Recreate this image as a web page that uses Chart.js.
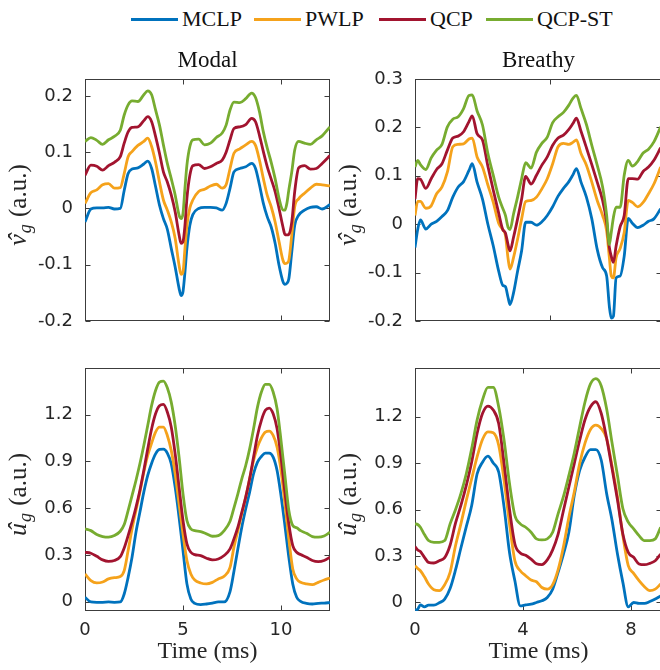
<!DOCTYPE html>
<html>
<head>
<meta charset="utf-8">
<title>Glottal flow estimates</title>
<script src="https://cdn.jsdelivr.net/npm/chart.js@4.4.1/dist/chart.umd.min.js"></script>
<style>
html, body { margin: 0; padding: 0; background: #fff; overflow: hidden; }
#fig { position: relative; width: 660px; height: 670px; overflow: hidden; }
#fig canvas { position: absolute; }
.key { position: absolute; top: 8px; font: 22px/22px "Liberation Serif", serif; color: #111; white-space: nowrap; }
.sw { position: absolute; top: 17.5px; width: 47px; height: 3px; }
</style>
</head>
<body>
<div id="fig">
  <div id="legend"></div>
  <canvas id="modalVg" width="330" height="311" style="left:0;top:40px"></canvas>
  <canvas id="breathyVg" width="332" height="311" style="left:330px;top:40px"></canvas>
  <canvas id="modalUg" width="330" height="330" style="left:0;top:340px"></canvas>
  <canvas id="breathyUg" width="332" height="330" style="left:330px;top:340px"></canvas>
</div>
<script>
var methods = ['MCLP', 'PWLP', 'QCP', 'QCP-ST'];
var lineColors = ['#0072BD', '#F5A21B', '#A2142F', '#77AC30'];

// modal vowel, flow derivative
var modalVgTime = [0, 0.3, 0.6, 0.9, 1.2, 1.5, 1.8, 2.0, 2.2, 2.4, 2.7, 3.0, 3.2, 3.4, 3.6, 3.8, 4.0, 4.2, 4.4, 4.6, 4.8, 4.9, 5.0, 5.1, 5.2, 5.35, 5.5, 5.8, 6.1, 6.4, 6.7, 7.0, 7.2, 7.4, 7.6, 7.9, 8.2, 8.5, 8.7, 8.9, 9.1, 9.3, 9.5, 9.7, 9.9, 10.1, 10.2, 10.3, 10.4, 10.55, 10.7, 10.9, 11.2, 11.5, 11.8, 12.1, 12.5];
var modalVgMCLP = [-0.024, -0.001, 0.001, 0.001, 0.002, -0.001, 0.000, 0.032, 0.062, 0.070, 0.072, 0.079, 0.084, 0.071, 0.039, 0.006, -0.018, -0.037, -0.071, -0.104, -0.142, -0.155, -0.148, -0.113, -0.071, -0.030, -0.011, 0.000, 0.002, 0.002, 0.001, -0.003, 0.009, 0.036, 0.065, 0.071, 0.074, 0.080, 0.071, 0.042, 0.009, -0.015, -0.033, -0.062, -0.101, -0.130, -0.135, -0.133, -0.125, -0.077, -0.030, -0.012, -0.003, 0.002, 0.003, -0.001, 0.007];
var modalVgPWLP = [0.009, 0.028, 0.033, 0.042, 0.044, 0.036, 0.037, 0.062, 0.092, 0.101, 0.112, 0.119, 0.125, 0.110, 0.082, 0.047, 0.015, -0.003, -0.024, -0.053, -0.101, -0.117, -0.113, -0.071, -0.030, 0.001, 0.015, 0.030, 0.034, 0.040, 0.043, 0.036, 0.042, 0.071, 0.098, 0.106, 0.113, 0.119, 0.112, 0.086, 0.053, 0.023, 0.003, -0.024, -0.059, -0.092, -0.098, -0.097, -0.092, -0.047, 0.003, 0.017, 0.027, 0.036, 0.043, 0.042, 0.040];
var modalVgQCP = [0.059, 0.077, 0.075, 0.068, 0.076, 0.082, 0.092, 0.116, 0.136, 0.144, 0.145, 0.156, 0.163, 0.154, 0.128, 0.098, 0.065, 0.047, 0.024, -0.006, -0.047, -0.062, -0.059, -0.030, 0.018, 0.059, 0.076, 0.078, 0.071, 0.074, 0.080, 0.086, 0.100, 0.122, 0.142, 0.145, 0.149, 0.160, 0.154, 0.130, 0.101, 0.074, 0.052, 0.030, 0.000, -0.033, -0.046, -0.047, -0.046, -0.024, 0.030, 0.072, 0.076, 0.070, 0.071, 0.080, 0.094];
var modalVgQCPST = [0.119, 0.126, 0.121, 0.114, 0.122, 0.128, 0.139, 0.166, 0.184, 0.191, 0.190, 0.202, 0.209, 0.202, 0.175, 0.148, 0.113, 0.080, 0.053, 0.024, -0.012, -0.018, -0.009, 0.036, 0.077, 0.110, 0.122, 0.123, 0.113, 0.116, 0.126, 0.134, 0.148, 0.175, 0.189, 0.188, 0.195, 0.205, 0.197, 0.172, 0.136, 0.107, 0.082, 0.053, 0.018, -0.003, -0.003, 0.009, 0.033, 0.065, 0.104, 0.119, 0.116, 0.114, 0.122, 0.129, 0.145];

// modal vowel, flow
var modalUgTime = [0, 0.3, 0.6, 0.9, 1.2, 1.5, 1.8, 2.0, 2.2, 2.4, 2.6, 2.8, 3.0, 3.2, 3.4, 3.6, 3.8, 4.0, 4.2, 4.4, 4.6, 4.8, 5.0, 5.2, 5.4, 5.6, 5.9, 6.2, 6.5, 6.8, 7.1, 7.4, 7.6, 7.8, 8.0, 8.2, 8.4, 8.6, 8.8, 9.0, 9.2, 9.4, 9.6, 9.8, 10.0, 10.2, 10.4, 10.6, 10.8, 11.0, 11.3, 11.6, 11.9, 12.2, 12.5];
var modalUgMCLP = [0.028, -0.002, -0.004, -0.004, -0.002, -0.004, -0.002, 0.049, 0.156, 0.285, 0.446, 0.574, 0.703, 0.810, 0.889, 0.949, 0.977, 0.979, 0.954, 0.885, 0.735, 0.542, 0.328, 0.114, 0.017, -0.011, -0.019, -0.015, -0.009, -0.002, -0.002, 0.065, 0.195, 0.339, 0.478, 0.596, 0.703, 0.821, 0.896, 0.932, 0.954, 0.954, 0.928, 0.842, 0.681, 0.489, 0.285, 0.114, 0.028, 0.002, -0.011, -0.015, -0.011, -0.009, -0.006];
var modalUgPWLP = [0.178, 0.135, 0.120, 0.126, 0.146, 0.154, 0.161, 0.199, 0.328, 0.467, 0.585, 0.703, 0.831, 0.939, 1.018, 1.089, 1.121, 1.121, 1.067, 0.971, 0.821, 0.628, 0.435, 0.264, 0.178, 0.139, 0.120, 0.114, 0.124, 0.146, 0.163, 0.220, 0.350, 0.456, 0.564, 0.671, 0.789, 0.906, 0.992, 1.052, 1.089, 1.095, 1.067, 0.992, 0.842, 0.628, 0.403, 0.210, 0.146, 0.124, 0.114, 0.109, 0.124, 0.139, 0.152];
var modalUgQCP = [0.317, 0.311, 0.291, 0.268, 0.259, 0.264, 0.289, 0.345, 0.424, 0.510, 0.606, 0.714, 0.842, 0.981, 1.110, 1.206, 1.258, 1.266, 1.217, 1.121, 0.949, 0.735, 0.521, 0.371, 0.317, 0.302, 0.296, 0.279, 0.268, 0.274, 0.296, 0.339, 0.403, 0.478, 0.574, 0.671, 0.789, 0.928, 1.067, 1.164, 1.228, 1.243, 1.206, 1.110, 0.928, 0.703, 0.499, 0.360, 0.317, 0.302, 0.285, 0.264, 0.257, 0.264, 0.285];
var modalUgQCPST = [0.467, 0.456, 0.431, 0.418, 0.414, 0.424, 0.452, 0.495, 0.585, 0.681, 0.778, 0.885, 1.003, 1.131, 1.260, 1.356, 1.410, 1.416, 1.373, 1.281, 1.131, 0.928, 0.692, 0.521, 0.467, 0.456, 0.450, 0.435, 0.420, 0.424, 0.456, 0.516, 0.602, 0.692, 0.789, 0.874, 0.981, 1.110, 1.249, 1.346, 1.395, 1.395, 1.346, 1.238, 1.035, 0.810, 0.585, 0.489, 0.474, 0.456, 0.439, 0.418, 0.414, 0.422, 0.446];

// breathy vowel, flow derivative
var breathyVgTime = [0, 0.1, 0.2, 0.4, 0.6, 0.8, 1.0, 1.2, 1.4, 1.6, 1.8, 2.0, 2.12, 2.3, 2.5, 2.7, 2.9, 3.1, 3.25, 3.35, 3.45, 3.52, 3.65, 3.8, 3.95, 4.1, 4.3, 4.5, 4.7, 4.9, 5.1, 5.3, 5.5, 5.7, 5.85, 5.98, 6.15, 6.35, 6.55, 6.75, 6.95, 7.1, 7.2, 7.27, 7.35, 7.45, 7.6, 7.75, 7.9, 8.05, 8.25, 8.45, 8.65, 8.85, 9.1];
var breathyVgMCLP = [-0.048, -0.011, 0.009, -0.010, 0.000, 0.006, 0.016, 0.028, 0.056, 0.077, 0.088, 0.111, 0.125, 0.087, 0.052, 0.000, -0.045, -0.097, -0.126, -0.129, -0.152, -0.166, -0.142, -0.097, -0.055, 0.004, 0.004, -0.002, 0.005, 0.018, 0.036, 0.058, 0.074, 0.088, 0.102, 0.115, 0.087, 0.056, 0.011, -0.052, -0.090, -0.107, -0.170, -0.194, -0.190, -0.111, -0.107, -0.066, 0.012, 0.002, -0.007, -0.002, 0.006, 0.011, 0.032];
var breathyVgPWLP = [0.018, 0.047, 0.047, 0.033, 0.038, 0.063, 0.077, 0.108, 0.160, 0.165, 0.166, 0.176, 0.178, 0.139, 0.118, 0.081, 0.045, 0.002, -0.011, -0.023, -0.072, -0.093, -0.069, -0.031, 0.011, 0.047, 0.049, 0.056, 0.073, 0.094, 0.125, 0.160, 0.167, 0.165, 0.169, 0.174, 0.146, 0.122, 0.087, 0.049, 0.018, -0.014, -0.069, -0.107, -0.111, -0.069, -0.050, -0.017, 0.049, 0.045, 0.036, 0.045, 0.063, 0.083, 0.118];
var breathyVgQCP = [0.052, 0.094, 0.093, 0.074, 0.094, 0.113, 0.125, 0.153, 0.178, 0.182, 0.191, 0.212, 0.224, 0.187, 0.174, 0.120, 0.070, 0.023, -0.011, -0.018, -0.043, -0.055, -0.027, 0.011, 0.052, 0.099, 0.083, 0.101, 0.122, 0.139, 0.163, 0.178, 0.184, 0.196, 0.208, 0.219, 0.192, 0.158, 0.123, 0.087, 0.049, 0.004, -0.048, -0.066, -0.079, -0.045, -0.005, 0.018, 0.094, 0.094, 0.093, 0.109, 0.118, 0.132, 0.158];
var breathyVgQCPST = [0.118, 0.132, 0.123, 0.113, 0.137, 0.153, 0.165, 0.201, 0.217, 0.222, 0.239, 0.266, 0.267, 0.234, 0.205, 0.146, 0.101, 0.056, 0.033, 0.018, -0.007, -0.011, 0.021, 0.056, 0.094, 0.127, 0.116, 0.149, 0.167, 0.180, 0.210, 0.222, 0.231, 0.246, 0.260, 0.266, 0.239, 0.206, 0.163, 0.122, 0.077, 0.018, -0.042, -0.017, 0.014, 0.035, 0.035, 0.101, 0.132, 0.120, 0.130, 0.147, 0.155, 0.170, 0.201];

// breathy vowel, flow
var breathyUgTime = [0, 0.1, 0.2, 0.35, 0.5, 0.7, 0.9, 1.1, 1.3, 1.5, 1.7, 1.9, 2.1, 2.3, 2.5, 2.7, 2.9, 3.1, 3.3, 3.5, 3.7, 3.9, 4.1, 4.3, 4.5, 4.7, 4.9, 5.1, 5.3, 5.5, 5.7, 5.9, 6.1, 6.3, 6.5, 6.7, 6.9, 7.1, 7.3, 7.5, 7.7, 7.9, 8.1, 8.3, 8.5, 8.7, 8.9, 9.1];
var breathyUgMCLP = [-0.050, -0.043, -0.015, -0.028, -0.017, -0.017, -0.002, 0.022, 0.090, 0.210, 0.352, 0.490, 0.627, 0.830, 0.906, 0.945, 0.901, 0.843, 0.616, 0.324, 0.140, -0.022, -0.015, -0.011, 0.000, 0.011, 0.032, 0.086, 0.195, 0.313, 0.454, 0.692, 0.854, 0.940, 0.988, 0.988, 0.919, 0.703, 0.530, 0.313, 0.130, -0.028, 0.000, -0.006, -0.006, 0.006, 0.022, 0.043];
var breathyUgPWLP = [0.238, 0.220, 0.205, 0.166, 0.119, 0.082, 0.076, 0.115, 0.195, 0.367, 0.508, 0.659, 0.800, 0.940, 1.053, 1.102, 1.096, 1.016, 0.789, 0.510, 0.270, 0.205, 0.173, 0.145, 0.134, 0.097, 0.086, 0.115, 0.210, 0.361, 0.551, 0.713, 0.897, 1.031, 1.118, 1.146, 1.124, 1.059, 0.882, 0.681, 0.432, 0.238, 0.188, 0.141, 0.102, 0.076, 0.086, 0.119];
var breathyUgQCP = [0.361, 0.339, 0.329, 0.292, 0.259, 0.255, 0.270, 0.290, 0.370, 0.512, 0.627, 0.757, 0.908, 1.092, 1.221, 1.269, 1.243, 1.157, 0.897, 0.605, 0.378, 0.320, 0.305, 0.280, 0.250, 0.245, 0.275, 0.340, 0.440, 0.594, 0.746, 0.897, 1.048, 1.182, 1.265, 1.297, 1.221, 1.059, 0.865, 0.664, 0.443, 0.324, 0.292, 0.249, 0.244, 0.253, 0.270, 0.313];
var breathyUgQCPST = [0.508, 0.504, 0.486, 0.439, 0.400, 0.389, 0.389, 0.400, 0.508, 0.599, 0.703, 0.832, 0.994, 1.178, 1.308, 1.390, 1.390, 1.265, 1.048, 0.770, 0.562, 0.508, 0.486, 0.454, 0.411, 0.404, 0.411, 0.454, 0.573, 0.685, 0.821, 0.966, 1.135, 1.297, 1.412, 1.446, 1.399, 1.250, 1.030, 0.820, 0.607, 0.519, 0.476, 0.432, 0.400, 0.400, 0.411, 0.486];

// tick values
var vgTicksModal = [-0.2, -0.1, 0, 0.1, 0.2];
var vgTicksBreathy = [-0.2, -0.1, 0, 0.1, 0.2, 0.3];
var ugTicks = [0, 0.3, 0.6, 0.9, 1.2];
var timeTicksModal = [0, 5, 10];
var timeTicksBreathyTop = [0, 5, 10];
var timeTicksBreathyBottom = [0, 4, 8];

Chart.defaults.font.family = '"DejaVu Sans", sans-serif';
Chart.defaults.font.size = 18;
Chart.defaults.color = '#262626';

// legend across the top of the figure
var legendLeft = [131, 254, 379, 486];
var legend = document.getElementById('legend');
methods.forEach(function (name, i) {
    var sw = document.createElement('span');
    sw.className = 'sw';
    sw.style.left = legendLeft[i] + 'px';
    sw.style.background = lineColors[i];
    legend.appendChild(sw);
    var txt = document.createElement('span');
    txt.className = 'key';
    txt.style.left = (legendLeft[i] + 51) + 'px';
    txt.textContent = name;
    legend.appendChild(txt);
});

// box with inward ticks, panel title and y label (matlab look)
var frame = {
    id: 'frame',
    beforeDatasetsDraw: function (chart, args, o) {
        var ctx = chart.ctx, a = chart.chartArea;
        var L = Math.round(a.left) + 0.5, R = Math.round(a.right) - 0.5;
        var T = Math.round(a.top) + 0.5, B = Math.round(a.bottom) - 0.5;
        ctx.save();
        ctx.strokeStyle = '#3c3c3c';
        ctx.lineWidth = 1;
        ctx.strokeRect(L, T, R - L, B - T);
        ctx.beginPath();
        o.xTicks.forEach(function (v) {
            var p = Math.round(chart.scales.x.getPixelForValue(v)) + 0.5;
            ctx.moveTo(p, B); ctx.lineTo(p, B - 5);
            ctx.moveTo(p, T); ctx.lineTo(p, T + 5);
        });
        o.yTicks.forEach(function (v) {
            var p = Math.round(chart.scales.y.getPixelForValue(v)) + 0.5;
            ctx.moveTo(L, p); ctx.lineTo(L + 5, p);
            ctx.moveTo(R, p); ctx.lineTo(R - 5, p);
        });
        ctx.stroke();
        ctx.restore();
    },
    afterDraw: function (chart, args, o) {
        var ctx = chart.ctx, a = chart.chartArea;
        ctx.save();
        ctx.fillStyle = '#111';
        if (o.title) {
            ctx.font = '23px "Liberation Serif"';
            ctx.textAlign = 'center';
            ctx.textBaseline = 'alphabetic';
            ctx.fillText(o.title, (a.left + a.right) / 2, a.top - 12);
        }
        // rotated label: hat symbol, subscript g, unit
        ctx.translate(a.left - 59, (a.top + a.bottom) / 2 + 5);
        ctx.rotate(-Math.PI / 2);
        ctx.fillStyle = '#262626';
        ctx.textBaseline = 'alphabetic';
        var fSym = 'italic 26px "Liberation Serif"';
        var fSub = 'italic 18px "Liberation Serif"';
        var fUnit = '25px "Liberation Serif"';
        ctx.font = fSym; var w1 = ctx.measureText(o.sym).width;
        ctx.font = fSub; var w2 = ctx.measureText('g').width;
        ctx.font = fUnit; var w3 = ctx.measureText(' (a.u.)').width;
        var x0 = -(w1 + w2 + w3 + 2) / 2;
        ctx.font = fSym;
        ctx.textAlign = 'left';
        ctx.fillText(o.sym, x0, 0);
        ctx.textAlign = 'center';
        ctx.fillText('\u02C6', x0 + w1 / 2 + 2, 0);
        ctx.textAlign = 'left';
        ctx.font = fSub;
        ctx.fillText('g', x0 + w1 + 1, 5);
        ctx.font = fUnit;
        ctx.fillText(' (a.u.)', x0 + w1 + w2 + 2, 0);
        ctx.restore();
    }
};

function makePanel(canvasId, p) {
    var datasets = p.series.map(function (vals, i) {
        return {
            label: methods[i],
            data: p.time.map(function (t, k) { return {x: t, y: vals[k]}; }),
            borderColor: lineColors[i],
            backgroundColor: lineColors[i],
            borderWidth: 2.8,
            pointRadius: 0,
            cubicInterpolationMode: 'monotone',
            order: 3 - i
        };
    });
    return new Chart(document.getElementById(canvasId), {
        type: 'line',
        data: {datasets: datasets},
        plugins: [frame],
        options: {
            responsive: false,
            animation: false,
            devicePixelRatio: 1,
            layout: {padding: {top: p.padTop, left: 0, right: 0, bottom: 0}},
            plugins: {
                legend: {display: false},
                tooltip: {enabled: false},
                frame: {title: p.title, sym: p.sym, xTicks: p.xTicks, yTicks: p.yTicks}
            },
            scales: {
                x: {
                    type: 'linear',
                    min: 0,
                    max: p.xMax,
                    grid: {display: false, drawTicks: false},
                    border: {display: false},
                    afterBuildTicks: function (s) { s.ticks = p.xTicks.map(function (v) { return {value: v}; }); },
                    afterFit: function (s) { s.height = p.showTime ? 59 : 30; },
                    ticks: {display: p.showTime, padding: 9, maxRotation: 0, autoSkip: false},
                    title: {
                        display: p.showTime,
                        text: 'Time (ms)',
                        color: '#262626',
                        font: {family: '"Liberation Serif", serif', size: 24},
                        padding: {top: 0, bottom: 4}
                    }
                },
                y: {
                    type: 'linear',
                    min: p.yMin,
                    max: p.yMax,
                    grid: {display: false, drawTicks: false},
                    border: {display: false},
                    afterBuildTicks: function (s) { s.ticks = p.yTicks.map(function (v) { return {value: v}; }); },
                    afterFit: function (s) { s.width = 85; },
                    ticks: {padding: 12, autoSkip: false, callback: function (v) { return String(v); }}
                }
            }
        }
    });
}

makePanel('modalVg', {
    time: modalVgTime,
    series: [modalVgMCLP, modalVgPWLP, modalVgQCP, modalVgQCPST],
    title: 'Modal', sym: 'v', padTop: 39, showTime: false,
    xMax: 12.5, xTicks: timeTicksModal,
    yMin: -0.2, yMax: 0.23, yTicks: vgTicksModal
});
makePanel('breathyVg', {
    time: breathyVgTime,
    series: [breathyVgMCLP, breathyVgPWLP, breathyVgQCP, breathyVgQCPST],
    title: 'Breathy', sym: 'v', padTop: 39, showTime: false,
    xMax: 9.15, xTicks: timeTicksBreathyTop,
    yMin: -0.2, yMax: 0.3, yTicks: vgTicksBreathy
});
makePanel('modalUg', {
    time: modalUgTime,
    series: [modalUgMCLP, modalUgPWLP, modalUgQCP, modalUgQCPST],
    title: '', sym: 'u', padTop: 28, showTime: true,
    xMax: 12.5, xTicks: timeTicksModal,
    yMin: -0.06, yMax: 1.5, yTicks: ugTicks
});
makePanel('breathyUg', {
    time: breathyUgTime,
    series: [breathyUgMCLP, breathyUgPWLP, breathyUgQCP, breathyUgQCPST],
    title: '', sym: 'u', padTop: 28, showTime: true,
    xMax: 9.15, xTicks: timeTicksBreathyBottom,
    yMin: -0.055, yMax: 1.515, yTicks: ugTicks
});
</script>
</body>
</html>
